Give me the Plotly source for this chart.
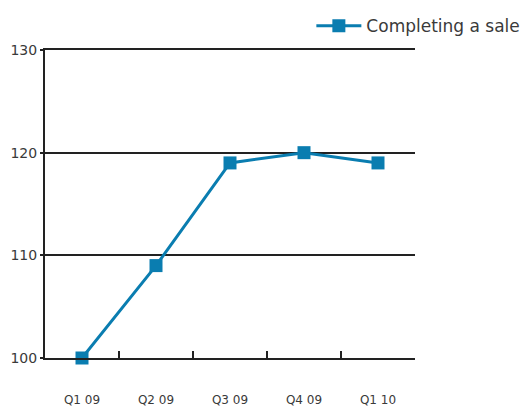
import plotly.graph_objects as go

categories = ["Q1 09", "Q2 09", "Q3 09", "Q4 09", "Q1 10"]
values = [100, 109, 119, 120, 119]
series_name = "Completing a sale"
y_ticks = [100, 110, 120, 130]

color = "#0a7db0"
font = "'DejaVu Sans', sans-serif"
ink = "#3a3a3a"

fig = go.Figure()
fig.add_trace(go.Scatter(
    x=categories, y=values, name=series_name, mode="lines+markers",
    line=dict(color=color, width=3),
    marker=dict(symbol="square", size=13, color=color),
    cliponaxis=False,
))

fig.update_layout(
    width=528, height=414,
    margin=dict(l=45, r=113, t=50, b=56, autoexpand=False),
    paper_bgcolor="white", plot_bgcolor="white",
    font=dict(family=font, color=ink),
    showlegend=True,
    legend=dict(xref="container", x=0.995, xanchor="right",
                yref="container", y=0.937, yanchor="middle",
                font=dict(size=17, color=ink), bgcolor="rgba(0,0,0,0)",
                itemwidth=45),
    xaxis=dict(
        type="category", tickson="boundaries", ticks="inside", ticklen=7,
        tickwidth=2, tickcolor="#222222", showline=True, linecolor="#222222",
        linewidth=2, mirror=True, showgrid=False, range=[-0.5, 4.5],
        tickfont=dict(size=12, color=ink), ticklabelstandoff=30,
    ),
    yaxis=dict(
        range=[100, 130], tickvals=y_ticks, showline=True, linecolor="#222222",
        linewidth=2, showgrid=True, gridcolor="#222222", gridwidth=2,
        zeroline=False, ticks="outside", ticklen=3, tickwidth=2, tickcolor="#222222",
        tickfont=dict(size=14, color=ink),
    ),
)

fig.write_html("out.html")
